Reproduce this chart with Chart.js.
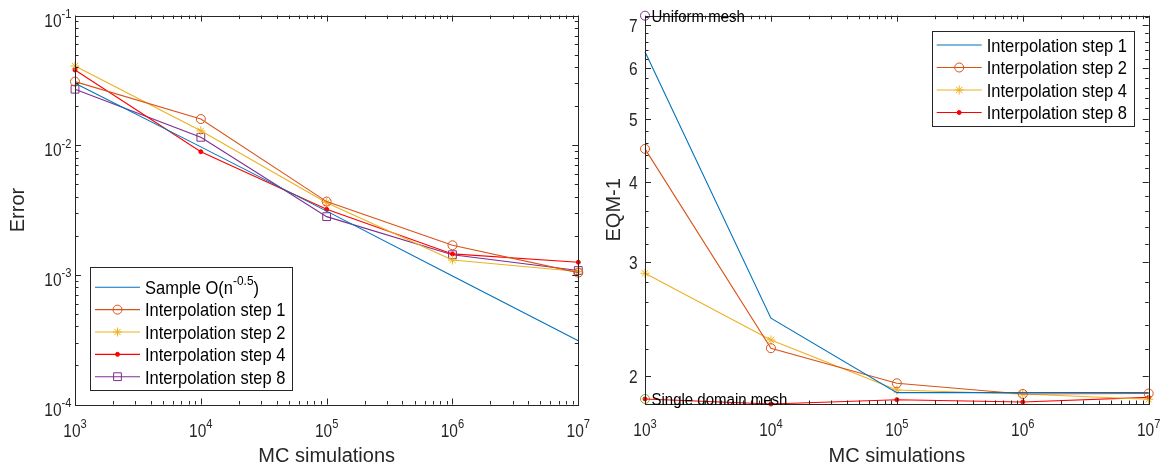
<!DOCTYPE html>
<html>
<head>
<meta charset="utf-8">
<title>Error / EQM-1 vs MC simulations</title>
<script src="https://cdn.jsdelivr.net/npm/chart.js@4.4.1/dist/chart.umd.min.js"></script>
<style>
  body { margin: 0; background: #ffffff; }
  #errorChart, #eqmChart { position: absolute; top: 0; }
  #errorChart { left: 0; }
  #eqmChart { left: 597px; }
</style>
</head>
<body>
<canvas id="errorChart" width="597" height="469"></canvas>
<canvas id="eqmChart" width="573" height="469"></canvas>
<script>
// x axis of both plots
var mc_sims = [1e3, 1e4, 1e5, 1e6, 1e7];
var mc_labels = ['10^{3}', '10^{4}', '10^{5}', '10^{6}', '10^{7}'];

// left plot: Error
var err_ticks = [1e-4, 1e-3, 1e-2, 1e-1];
var err_labels = ['10^{-4}', '10^{-3}', '10^{-2}', '10^{-1}'];
var err_sample = [0.0300, 0.0097, 0.0031, 0.00098, 0.00031];
var err_step1 = [0.0309, 0.0159, 0.00367, 0.00169, 0.00104];
var err_step2 = [0.0408, 0.0129, 0.0036, 0.00130, 0.00106];
var err_step4 = [0.0380, 0.0089, 0.0032, 0.00145, 0.00125];
var err_step8 = [0.0270, 0.0115, 0.00281, 0.00143, 0.00108];

// right plot: EQM-1
var eqm_ticks = [2, 3, 4, 5, 6, 7];
var eqm_labels = ['2', '3', '4', '5', '6', '7'];
var eqm_step1 = [6.37, 2.456, 1.882, 1.882, 1.882];
var eqm_step2 = [4.50, 2.206, 1.946, 1.873, 1.876];
var eqm_step4 = [2.884, 2.272, 1.900, 1.873, 1.838];
var eqm_step8 = [1.840, 1.807, 1.835, 1.820, 1.850];
var uniform_mesh = 7.245;
var single_domain_mesh = 1.840;

var FONT = "'Liberation Sans', Arial, Helvetica, sans-serif";
var AXIS_COLOR = '#262626';
var TEXT_STRETCH = 1.15; // tick/legend text in the reference is a bit taller than wide

function logMinors(e0, e1) {
    var out = [];
    for (var e = e0; e < e1; e++) {
        for (var d = 2; d <= 9; d++) out.push(d * Math.pow(10, e));
    }
    return out;
}

function points(ys) {
    return mc_sims.map(function (x, i) { return { x: x, y: ys[i] }; });
}

function series(label, ys, color, marker) {
    var ds = {
        label: label, data: points(ys), borderColor: color, backgroundColor: color,
        borderWidth: 1.1, pointRadius: 0, pointBorderWidth: 1, pointBorderColor: color,
        pointBackgroundColor: 'rgba(0,0,0,0)', pointStyle: 'circle', clip: false, marker: marker
    };
    if (marker == 'o') { ds.pointRadius = 4.5; }
    if (marker == '*') { ds.pointStyle = 'star'; ds.pointRadius = 4.5; }
    if (marker == '.') { ds.pointRadius = 2; ds.pointBackgroundColor = color; }
    if (marker == 's') { ds.pointStyle = 'rect'; ds.pointRadius = 5.5; }
    return ds;
}

function note(label, x, y, color) {
    return {
        label: label, data: [{ x: x, y: y }], showLine: false, clip: false,
        pointStyle: 'circle', pointRadius: 4.5, pointBorderWidth: 1,
        pointBorderColor: color, pointBackgroundColor: 'rgba(0,0,0,0)', isNote: true
    };
}

// text with ^{..} superscripts
function drawRich(ctx, str, x, y, size, align, rotated, stretch) {
    if (stretch === undefined) stretch = TEXT_STRETCH;
    var parts = [], re = /\^\{([^}]*)\}/g, last = 0, m;
    while ((m = re.exec(str)) !== null) {
        if (m.index > last) parts.push({ t: str.slice(last, m.index), sup: false });
        parts.push({ t: m[1], sup: true });
        last = re.lastIndex;
    }
    if (last < str.length) parts.push({ t: str.slice(last), sup: false });
    var supSize = size * 0.72, w = 0;
    parts.forEach(function (p) {
        ctx.font = (p.sup ? supSize : size) + 'px ' + FONT;
        p.w = ctx.measureText(p.t).width;
        w += p.w;
    });
    ctx.save();
    ctx.translate(x, y);
    if (rotated) { ctx.rotate(-Math.PI / 2); ctx.scale(stretch, 1); }
    else ctx.scale(1, stretch);
    ctx.textAlign = 'left';
    ctx.textBaseline = 'alphabetic';
    var cx = align == 'right' ? -w : (align == 'center' ? -w / 2 : 0);
    parts.forEach(function (p) {
        ctx.font = (p.sup ? supSize : size) + 'px ' + FONT;
        ctx.fillText(p.t, cx, p.sup ? -size * 0.47 : 0);
        cx += p.w;
    });
    ctx.restore();
}

function drawMarker(ctx, ds, x, y) {
    var r = ds.pointRadius;
    if (!r) return;
    ctx.save();
    ctx.strokeStyle = ds.pointBorderColor;
    ctx.fillStyle = ds.pointBackgroundColor;
    ctx.lineWidth = 1;
    ctx.beginPath();
    if (ds.pointStyle == 'rect') {
        var s = r * Math.SQRT1_2;
        ctx.rect(x - s, y - s, 2 * s, 2 * s);
        ctx.stroke();
    } else if (ds.pointStyle == 'star') {
        for (var k = 0; k < 4; k++) {
            var a = k * Math.PI / 4;
            ctx.moveTo(x + r * Math.cos(a), y + r * Math.sin(a));
            ctx.lineTo(x - r * Math.cos(a), y - r * Math.sin(a));
        }
        ctx.stroke();
    } else {
        ctx.arc(x, y, r, 0, Math.PI * 2);
        ctx.fill();
        ctx.stroke();
    }
    ctx.restore();
}

// matlab style box, inward ticks, tick labels, titles, legend and notes
function axesPlugin(spec) {
    return {
        id: 'matlabAxes',
        afterDraw: function (chart) {
            var ctx = chart.ctx, a = chart.chartArea;
            var xs = chart.scales.x, ys = chart.scales.y;
            var L = a.left, R = a.right, T = a.top, B = a.bottom;
            ctx.save();
            ctx.strokeStyle = AXIS_COLOR;
            ctx.lineWidth = 1;
            ctx.beginPath();
            function xTick(v, len) {
                var px = Math.round(xs.getPixelForValue(v)) + 0.5;
                ctx.moveTo(px, B); ctx.lineTo(px, B - len);
                ctx.moveTo(px, T); ctx.lineTo(px, T + len);
            }
            function yTick(v, len) {
                var py = Math.round(ys.getPixelForValue(v)) + 0.5;
                ctx.moveTo(L, py); ctx.lineTo(L + len, py);
                ctx.moveTo(R, py); ctx.lineTo(R - len, py);
            }
            spec.xTicks.forEach(function (v) { xTick(v, 6); });
            spec.xMinor.forEach(function (v) { xTick(v, 3.5); });
            spec.yTicks.forEach(function (v) { yTick(v, 6); });
            spec.yMinor.forEach(function (v) { yTick(v, 3.5); });
            ctx.stroke();
            ctx.strokeRect(Math.round(L) + 0.5, Math.round(T) + 0.5, Math.round(R - L), Math.round(B - T));

            // tick labels and titles
            ctx.fillStyle = AXIS_COLOR;
            spec.xTicks.forEach(function (v, i) {
                drawRich(ctx, spec.xLabels[i], xs.getPixelForValue(v), B + 32.2, 15.5, 'center');
            });
            spec.yTicks.forEach(function (v, i) {
                drawRich(ctx, spec.yLabels[i], L - spec.yGap, ys.getPixelForValue(v) + spec.yDy, 15.5, 'right');
            });
            drawRich(ctx, spec.xTitle, (L + R) / 2, 462, 20, 'center', false, 1);
            drawRich(ctx, spec.yTitle, spec.yTitleX, (T + B) / 2, 20, 'center', true, 1);

            // notes next to their points
            ctx.fillStyle = '#000000';
            chart.data.datasets.forEach(function (ds, i) {
                if (!ds.isNote) return;
                var pt = chart.getDatasetMeta(i).data[0];
                drawRich(ctx, ds.label, pt.x + 6.5, pt.y + 6.2, 15, 'left');
            });

            // legend
            var lg = spec.legend, bx = L + lg.x, by = T + lg.y;
            ctx.fillStyle = '#ffffff';
            ctx.fillRect(bx, by, lg.w, lg.h);
            ctx.strokeStyle = AXIS_COLOR;
            ctx.strokeRect(Math.round(bx) + 0.5, Math.round(by) + 0.5, Math.round(lg.w), Math.round(lg.h));
            var row = by + lg.first;
            chart.data.datasets.forEach(function (ds) {
                if (ds.isNote) return;
                ctx.strokeStyle = ds.borderColor;
                ctx.lineWidth = 1.1;
                ctx.beginPath();
                ctx.moveTo(bx + 5, row); ctx.lineTo(bx + 50, row);
                ctx.stroke();
                drawMarker(ctx, ds, bx + 27.5, row);
                ctx.fillStyle = '#000000';
                drawRich(ctx, ds.label, bx + 55, row + 6.8, 16.5, 'left');
                row += lg.rowH;
            });
            ctx.restore();
        }
    };
}

function makeChart(ctx, cfg) {
    return new Chart(ctx, cfg);
}

function renderChart() {
    var rightMinors = [];
    for (var k = 10; k <= 36; k++) { if (k % 5 != 0) rightMinors.push(k / 5); }

    // Error plot
    makeChart(document.getElementById('errorChart').getContext('2d'), {
        type: 'line',
        data: {
            datasets: [
                series('Sample O(n^{-0.5})', err_sample, '#0072BD', ''),
                series('Interpolation step 1', err_step1, '#D95319', 'o'),
                series('Interpolation step 2', err_step2, '#EDB120', '*'),
                series('Interpolation step 4', err_step4, '#FF0000', '.'),
                series('Interpolation step 8', err_step8, '#7E2F8E', 's')
            ]
        },
        options: {
            responsive: false, animation: false,
            layout: { padding: { left: 75, right: 18.7, top: 15.5, bottom: 64.5 } },
            plugins: { legend: { display: false }, tooltip: { enabled: false } },
            scales: {
                x: { type: 'logarithmic', display: false, min: 1e3, max: 1e7, bounds: 'data' },
                y: { type: 'logarithmic', display: false, min: 1e-4, max: 1e-1, bounds: 'data' }
            }
        },
        plugins: [axesPlugin({
            xTicks: mc_sims, xLabels: mc_labels, xMinor: logMinors(3, 7),
            yTicks: err_ticks, yLabels: err_labels, yMinor: logMinors(-4, -1),
            yGap: 3.5, yDy: 11, xTitle: 'MC simulations', yTitle: 'Error', yTitleX: 24,
            legend: { x: 15, y: 251.2, w: 202, h: 122.6, first: 20.6, rowH: 22.35 }
        })]
    });

    // EQM-1 plot
    makeChart(document.getElementById('eqmChart').getContext('2d'), {
        type: 'line',
        data: {
            datasets: [
                series('Interpolation step 1', eqm_step1, '#0072BD', ''),
                series('Interpolation step 2', eqm_step2, '#D95319', 'o'),
                series('Interpolation step 4', eqm_step4, '#EDB120', '*'),
                series('Interpolation step 8', eqm_step8, '#FF0000', '.'),
                note('Uniform mesh', mc_sims[0], uniform_mesh, '#7E2F8E'),
                note('Single domain mesh', mc_sims[0], single_domain_mesh, '#77AC30')
            ]
        },
        options: {
            responsive: false, animation: false,
            layout: { padding: { left: 48, right: 21.3, top: 15.7, bottom: 65 } },
            plugins: { legend: { display: false }, tooltip: { enabled: false } },
            scales: {
                x: { type: 'logarithmic', display: false, min: 1e3, max: 1e7, bounds: 'data' },
                y: { type: 'logarithmic', display: false, min: eqm_step8[1], max: uniform_mesh, bounds: 'data' }
            }
        },
        plugins: [axesPlugin({
            xTicks: mc_sims, xLabels: mc_labels, xMinor: logMinors(3, 7),
            yTicks: eqm_ticks, yLabels: eqm_labels, yMinor: rightMinors,
            yGap: 7.5, yDy: 7, xTitle: 'MC simulations', yTitle: 'EQM-1', yTitleX: 620 - 597,
            legend: { x: 286.7, y: 15.3, w: 202.3, h: 95, first: 14, rowH: 22.5 }
        })]
    });
}

renderChart();
</script>
</body>
</html>
